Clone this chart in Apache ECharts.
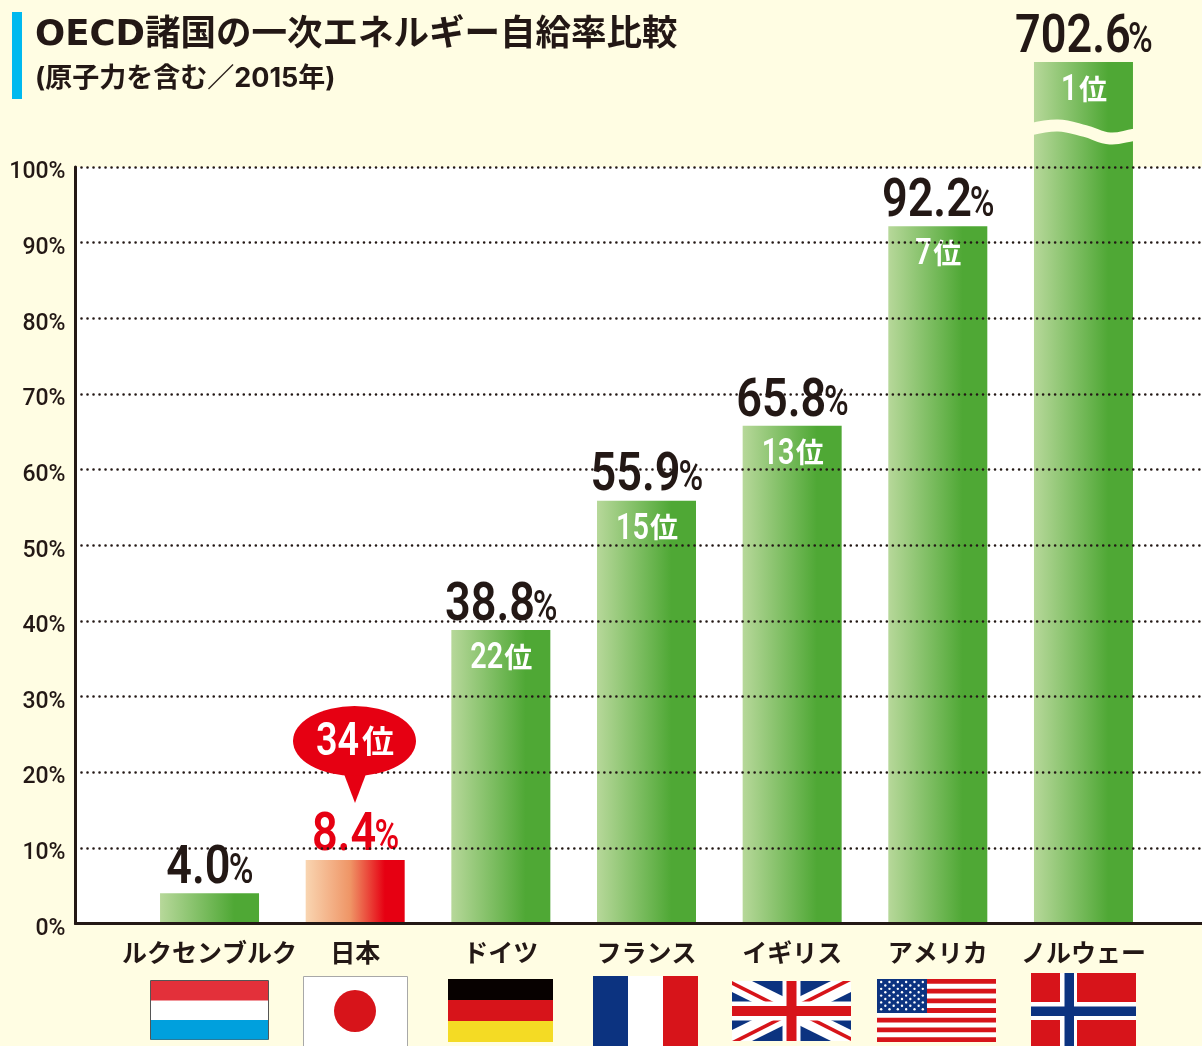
<!DOCTYPE html>
<html>
<head>
<meta charset="utf-8">
<style>
  html, body { margin: 0; padding: 0; background: #fffde3; }
  #main { width: 1202px; height: 1046px; }
</style>
<script src="https://cdn.jsdelivr.net/npm/echarts@6/dist/echarts.min.js"></script>
</head>
<body>
<div id="main"></div>
<script>
const countries = ['ルクセンブルク', '日本', 'ドイツ', 'フランス', 'イギリス', 'アメリカ', 'ノルウェー']
const selfSufficiency = [4.0, 8.4, 38.8, 55.9, 65.8, 92.2, 702.6]
const ranks = [null, 34, 22, 15, 13, 7, 1]
const yTicks = [0, 10, 20, 30, 40, 50, 60, 70, 80, 90, 100]

const titleText = 'OECD諸国の一次エネルギー自給率比較'
const subText = '(原子力を含む／2015年)'

const cream = '#fffde3'
const ink = '#231815'
const red = '#e60012'
const jpFont = '"Noto Sans CJK JP", sans-serif'
const numFont = 'Roboto, sans-serif'
const barAxisMax = 113.9 // Norway's bar is cut off here

var myChart = echarts.init(document.getElementById('main'));

const greenBar = new echarts.graphic.LinearGradient(0, 0, 1, 0, [
  { offset: 0, color: '#b7d89a' },
  { offset: 0.75, color: '#4fa835' },
  { offset: 1, color: '#4fa835' }
])
const redBar = new echarts.graphic.LinearGradient(0, 0, 1, 0, [
  { offset: 0, color: '#f9d5b1' },
  { offset: 0.45, color: '#ef9566' },
  { offset: 0.8, color: '#e60012' },
  { offset: 1, color: '#e60012' }
])

// no condensed font is installed, so digits get squeezed with scaleX
function squeezed(text, x, y, font, fill, scaleX) {
  return {
    type: 'text', x, y, scaleX, z2: 20,
    style: { text, font, fill, align: 'left', verticalAlign: 'middle' }
  }
}

function renderLabels(params, api) {
  const i = api.value(0)
  const v = api.value(1)
  const pos = api.coord([i, Math.min(v, barAxisMax)])
  const s = v.toFixed(1)
  const numW = ((s.length - 1) * 0.56 + 0.27) * 53 * 0.85
  const left = pos[0] - (numW + 24) / 2
  const fill = i === 1 ? red : ink
  const children = [
    squeezed(s, left, pos[1] - 23.5, `600 53px ${numFont}`, fill, 0.85),
    squeezed('%', left + numW, pos[1] - 21, `500 42px ${numFont}`, fill, 0.8)
  ]
  const r = ranks[i]
  if (r !== null && r !== 34) {
    const digits = String(r)
    const dw = digits.length * 16
    const rl = pos[0] - (dw + 29) / 2
    children.push(squeezed(digits, rl, pos[1] + 29, `600 36px ${numFont}`, '#fff', 0.8))
    children.push(squeezed('位', rl + dw + 2, pos[1] + 27, `700 28px ${jpFont}`, '#fff', 1))
  }
  return { type: 'group', children }
}

// flags are pictures in the original, so they are plain shapes here
function rect(x, y, w, h, fill, stroke) {
  return { type: 'rect', shape: { x, y, width: w, height: h },
    style: { fill, stroke: stroke || null, lineWidth: stroke ? 1 : 0 } }
}
function poly(points, fill) {
  return { type: 'polygon', shape: { points }, style: { fill } }
}

function unionJack(x, y, w, h) {
  const navy = '#0c3380', flagRed = '#d7141a'
  const x2 = x + w, y2 = y + h, cx = x + w / 2, cy = y + h / 2
  const dx = 20, dy = 11
  const out = [rect(x, y, w, h, navy)]
  out.push(poly([[x, y], [x + dx, y], [x2, y2 - dy], [x2, y2], [x2 - dx, y2], [x, y + dy]], '#fff'))
  out.push(poly([[x2, y], [x2 - dx, y], [x, y2 - dy], [x, y2], [x + dx, y2], [x2, y + dy]], '#fff'))
  out.push(poly([[x, y], [cx, cy], [cx - 8, cy], [x, y + 4]], flagRed))
  out.push(poly([[x2, y], [cx + 8, cy - 4], [cx, cy - 4], [x2 - 8, y]], flagRed))
  out.push(poly([[x2, y2], [cx, cy], [cx + 8, cy], [x2, y2 - 4]], flagRed))
  out.push(poly([[x, y2], [cx - 8, cy + 4], [cx, cy + 4], [x + 8, y2]], flagRed))
  out.push(rect(cx - 9, y, 18, h, '#fff'), rect(x, cy - 9.5, w, 19, '#fff'))
  out.push(rect(cx - 5, y, 10, h, flagRed), rect(x, cy - 5, w, 10, flagRed))
  return out
}

function stars(x, y, w, h) {
  const navy = '#0c3380', flagRed = '#d7141a'
  const out = [rect(x, y, w, h, '#fff')]
  const stripe = h / 13
  for (let i = 0; i < 13; i += 2) {
    out.push(rect(x, y + i * stripe, w, stripe, flagRed))
  }
  const cw = w * 0.42, ch = stripe * 7
  out.push(rect(x, y, cw, ch, navy))
  for (let r = 0; r < 9; r++) {
    const n = r % 2 ? 5 : 6
    for (let c = 0; c < n; c++) {
      const sx = x + (c + (r % 2 ? 1 : 0.5)) * cw / 6
      const sy = y + (r + 0.9) * ch / 10
      out.push({ type: 'circle', shape: { cx: sx, cy: sy, r: 1.2 }, style: { fill: '#fff' } })
    }
  }
  return out
}

const flags = [
  rect(150.5, 980.5, 118, 59, '#fff', '#555'),
  rect(151, 981, 117, 19.5, '#e3303a'),
  rect(151, 1020, 117, 19.5, '#00a0dd'),

  rect(303.5, 976.5, 104, 70, '#fff', '#a8a8a8'),
  { type: 'circle', shape: { cx: 355, cy: 1011, r: 21 }, style: { fill: '#d7141a' } },

  rect(448, 979, 105, 21, '#070100'),
  rect(448, 1000, 105, 21, '#d7141a'),
  rect(448, 1021, 105, 21, '#f4db24'),

  rect(593, 976, 35, 70, '#0c3380'),
  rect(628, 976, 35, 70, '#fff'),
  rect(663, 976, 35, 70, '#d7141a'),

  ...unionJack(732, 981, 119, 60),
  ...stars(877, 979, 119, 63),

  rect(1031, 973, 105, 73, '#d7141a'),
  rect(1060, 973, 17, 73, '#fff'),
  rect(1031, 1002, 105, 18, '#fff'),
  rect(1064.5, 973, 9.5, 73, '#0c3380'),
  rect(1031, 1006.5, 105, 9.5, '#0c3380')
]

var option = {
  animation: false,
  backgroundColor: cream,
  title: {
    text: titleText,
    subtext: subText,
    left: 30,
    top: 13,
    itemGap: 12,
    textStyle: { fontFamily: '"DejaVu Sans", "Noto Sans CJK JP", sans-serif', fontSize: 35.5, fontWeight: 700, color: ink },
    subtextStyle: { fontFamily: 'Inter, "Noto Sans CJK JP", sans-serif', fontSize: 27, fontWeight: 700, color: ink }
  },
  grid: [
    // drawing area with scale and dotted lines
    { left: 75.5, right: 0, top: 167, bottom: 122.5, show: true, backgroundColor: '#fff', borderWidth: 0 },
    // bars; taller so the cut Norway bar can run past 100%
    { left: 136.7, width: 1019.6, top: 62, bottom: 122.5 }
  ],
  xAxis: [
    {
      gridIndex: 0, type: 'category', data: [], z: 5,
      axisLine: { lineStyle: { color: ink, width: 3 } },
      axisTick: { show: false }, axisLabel: { show: false }
    },
    {
      gridIndex: 1, type: 'category', data: countries,
      axisLine: { show: false }, axisTick: { show: false },
      axisLabel: {
        interval: 0, margin: 16, color: ink,
        fontFamily: jpFont, fontSize: 25, fontWeight: 700
      }
    }
  ],
  yAxis: [
    {
      gridIndex: 0, type: 'value', min: yTicks[0], max: yTicks[yTicks.length - 1], interval: 10, z: 5,
      axisLine: { show: true, lineStyle: { color: ink, width: 3 } },
      axisTick: { show: false },
      axisLabel: {
        formatter: '{value}%', margin: 10, color: ink, verticalAlign: 'top', lineHeight: 11,
        fontFamily: 'Roboto, sans-serif', fontSize: 23, fontWeight: 500
      },
      splitLine: { lineStyle: { color: ink, width: 2.6, type: [0.01, 6], cap: 'round' } }
    },
    { gridIndex: 1, type: 'value', min: 0, max: barAxisMax, show: false }
  ],
  series: [
    {
      type: 'bar',
      xAxisIndex: 1,
      yAxisIndex: 1,
      barWidth: 99,
      clip: true,
      data: selfSufficiency.map((v, i) => ({
        value: v,
        itemStyle: { color: i === 1 ? redBar : greenBar }
      }))
    },
    {
      // value and rank labels
      type: 'custom',
      xAxisIndex: 1,
      yAxisIndex: 1,
      z: 4,
      clip: false,
      silent: true,
      encode: { x: 0, y: 1 },
      data: selfSufficiency.map((v, i) => [i, v]),
      renderItem: renderLabels
    }
  ],
  graphic: [
    rect(12, 12, 10, 87, '#00b9ef'),
    // cut mark across the Norway bar
    {
      type: 'polyline',
      z: 10,
      shape: { points: [[1030, 129.5], [1058, 125.5], [1085, 131], [1110, 138.5], [1133, 135], [1138, 134]], smooth: 0.4 },
      style: { stroke: cream, lineWidth: 12, fill: null }
    },
    // balloon with Japan's rank
    { type: 'circle', z: 10, x: 354.5, y: 741, scaleX: 61.5 / 35, shape: { cx: 0, cy: 0, r: 35 }, style: { fill: red } },
    poly([[344, 774], [366, 774], [355, 803]], red),
    {
      type: 'text', z: 11, x: 316, y: 743, scaleX: 0.82,
      style: { text: String(ranks[1]), font: `600 46px ${numFont}`, fill: '#fff', align: 'left', verticalAlign: 'middle' }
    },
    {
      type: 'text', z: 11, x: 362, y: 741,
      style: { text: '位', font: `700 32px ${jpFont}`, fill: '#fff', align: 'left', verticalAlign: 'middle' }
    },
    ...flags
  ]
};

myChart.setOption(option);
</script>
</body>
</html>
